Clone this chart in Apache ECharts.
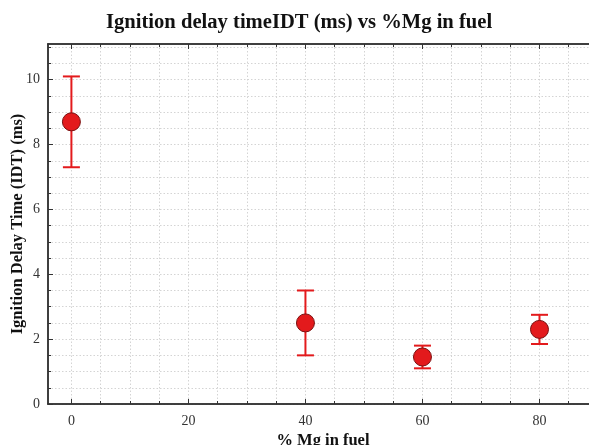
<!DOCTYPE html>
<html>
<head>
<meta charset="utf-8">
<script src="https://cdn.jsdelivr.net/npm/echarts@6/dist/echarts.min.js"></script>
<style>
html,body{margin:0;padding:0;background:#fff;}
#chart{width:589px;height:445px;}
</style>
</head>
<body>
<div id="chart"></div>
<script>
// ---- data ----
var mgPercent = [0, 40, 60, 80];
var idtMean = [8.7, 2.5, 1.45, 2.3];
var idtLow = [7.3, 1.5, 1.1, 1.85];
var idtHigh = [10.1, 3.5, 1.8, 2.75];
var xTickLabels = [0, 20, 40, 60, 80];
var xMinorTicks = [0, 5, 10, 15, 20, 25, 30, 35, 40, 45, 50, 55, 60, 65, 70, 75, 80, 85, 90];
var yTickLabels = [0, 2, 4, 6, 8, 10];
var yMinorTicks = [0, 0.5, 1, 1.5, 2, 2.5, 3, 3.5, 4, 4.5, 5, 5.5, 6, 6.5, 7, 7.5, 8, 8.5, 9, 9.5, 10, 10.5, 11];

var titleText = 'Ignition delay timeIDT (ms) vs %Mg in fuel';
var xName = '% Mg in fuel';
var yName = 'Ignition Delay Time (IDT) (ms)';

var serif = '"Liberation Serif", "Times New Roman", serif';
var axisColor = '#333333';
var red = '#e31a1c';
var gridLine = {color: '#d4d4d4', type: [1.5, 2], width: 1};

var chart = echarts.init(document.getElementById('chart'), null, {renderer: 'canvas'});

var X_MIN = -4, X_MAX = 90, Y_MIN = 0, Y_MAX = 11.1;

function xAxisDef(pos, ticks, tickLen, showLabel, showSplit) {
  return {
    type: 'value', gridIndex: 0, position: pos,
    min: X_MIN, max: X_MAX,
    axisLine: {show: true, onZero: false, lineStyle: {color: axisColor, width: 1.5}},
    axisTick: {show: true, inside: true, length: tickLen, customValues: ticks,
               lineStyle: {color: axisColor, width: 1}},
    axisLabel: {
      show: showLabel, customValues: xTickLabels, color: axisColor, fontFamily: serif,
      fontSize: 14, margin: 10, showMinLabel: true, showMaxLabel: true
    },
    splitLine: {show: showSplit, customValues: ticks, lineStyle: gridLine},
    name: (pos === 'bottom' && showLabel) ? xName : '',
    nameLocation: 'middle', nameGap: 28, nameMoveOverlap: false,
    nameTextStyle: {fontFamily: serif, fontWeight: 'bold', fontSize: 16.5, color: '#111'}
  };
}
function yAxisDef(ticks, tickLen, showLabel, showSplit) {
  return {
    type: 'value', gridIndex: 0, position: 'left',
    min: Y_MIN, max: Y_MAX,
    axisLine: {show: true, onZero: false, lineStyle: {color: axisColor, width: 1.5}},
    axisTick: {show: true, inside: true, length: tickLen, customValues: ticks,
               lineStyle: {color: axisColor, width: 1}},
    axisLabel: {
      show: showLabel, customValues: yTickLabels, color: axisColor, fontFamily: serif,
      fontSize: 14, margin: 8
    },
    splitLine: {show: showSplit, customValues: ticks, lineStyle: gridLine},
    name: showLabel ? yName : '',
    nameLocation: 'middle', nameGap: 22, nameMoveOverlap: false,
    nameTextStyle: {fontFamily: serif, fontWeight: 'bold', fontSize: 16.5, color: '#111'}
  };
}

var option = {
  backgroundColor: '#ffffff',
  animation: false,
  title: {
    text: titleText, left: 106, top: 12, padding: 0,
    textStyle: {fontFamily: serif, fontWeight: 'bold', fontSize: 20.6, color: '#111'}
  },
  grid: {left: 48, top: 44, bottom: 41, right: -9, containLabel: false, outerBoundsMode: 'none'},
  xAxis: [
    xAxisDef('bottom', xMinorTicks, 3, false, true),
    xAxisDef('bottom', xTickLabels, 5, true, false),
    xAxisDef('top', xMinorTicks, 3, false, false),
    xAxisDef('top', xTickLabels, 5, false, false)
  ],
  yAxis: [
    yAxisDef(yMinorTicks, 3, false, true),
    yAxisDef(yTickLabels, 5, true, false)
  ],
  series: [
    {
      type: 'custom', xAxisIndex: 0, yAxisIndex: 0, z: 3,
      data: mgPercent.map(function (x, i) { return [x, idtLow[i], idtHigh[i]]; }),
      renderItem: function (params, api) {
        var lo = api.coord([api.value(0), api.value(1)]);
        var hi = api.coord([api.value(0), api.value(2)]);
        var hw = 8.5;
        var st = {stroke: red, lineWidth: 2, fill: null};
        return {
          type: 'group',
          children: [
            {type: 'line', shape: {x1: lo[0], y1: lo[1], x2: hi[0], y2: hi[1]}, style: st},
            {type: 'line', shape: {x1: lo[0] - hw, y1: lo[1], x2: lo[0] + hw, y2: lo[1]}, style: st},
            {type: 'line', shape: {x1: hi[0] - hw, y1: hi[1], x2: hi[0] + hw, y2: hi[1]}, style: st}
          ]
        };
      }
    },
    {
      type: 'scatter', xAxisIndex: 0, yAxisIndex: 0, z: 4,
      symbol: 'circle', symbolSize: 18,
      itemStyle: {color: red, borderColor: '#7a1010', borderWidth: 1, opacity: 1},
      data: mgPercent.map(function (x, i) { return [x, idtMean[i]]; })
    }
  ]
};
chart.setOption(option);
</script>
</body>
</html>
